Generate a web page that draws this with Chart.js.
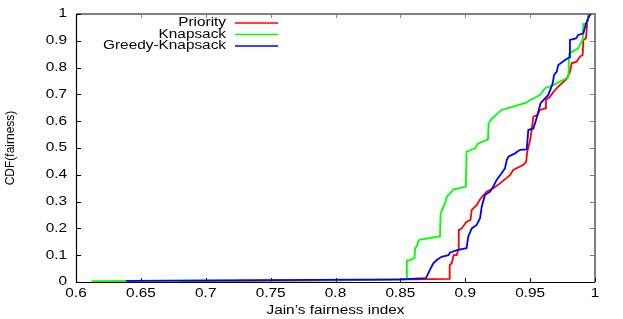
<!DOCTYPE html>
<html>
<head>
<meta charset="utf-8">
<script src="https://cdn.jsdelivr.net/npm/chart.js@4.4.0/dist/chart.umd.min.js"></script>
<style>
  html, body { margin: 0; padding: 0; background: #fff; }
  #wrap { width: 623px; height: 319px; }
</style>
</head>
<body>
<div id="wrap"><canvas id="cdfChart" width="623" height="319"></canvas></div>
<script>
// tick labels
var xTicks = [0.6, 0.65, 0.7, 0.75, 0.8, 0.85, 0.9, 0.95, 1];
var yTicks = [0, 0.1, 0.2, 0.3, 0.4, 0.5, 0.6, 0.7, 0.8, 0.9, 1];

// series names
var seriesNames = ['Priority', 'Knapsack', 'Greedy-Knapsack'];

// Priority (red)
var priorityX = [0.68, 0.80, 0.8875, 0.888, 0.8896, 0.891, 0.8934, 0.8946, 0.895, 0.8973, 0.901, 0.904, 0.905, 0.9088, 0.9114, 0.9165, 0.9216, 0.9268, 0.9345, 0.937, 0.9448, 0.947, 0.9478, 0.950, 0.9512, 0.9525, 0.9556, 0.9576, 0.9615, 0.9622, 0.9653, 0.968, 0.9717, 0.9756, 0.978, 0.9807, 0.982, 0.9858, 0.9884, 0.9905, 0.991, 0.993, 0.994, 0.9948, 0.995];
var priorityY = [0.003, 0.006, 0.012, 0.063, 0.07, 0.10, 0.10, 0.12, 0.194, 0.20, 0.225, 0.231, 0.269, 0.287, 0.309, 0.337, 0.35, 0.368, 0.399, 0.418, 0.437, 0.449, 0.486, 0.530, 0.567, 0.617, 0.623, 0.642, 0.648, 0.679, 0.691, 0.710, 0.729, 0.747, 0.757, 0.785, 0.816, 0.822, 0.841, 0.847, 0.903, 0.909, 0.965, 0.996, 1.0];

// Knapsack (green)
var knapsackX = [0.612, 0.70, 0.80, 0.8545, 0.855, 0.8575, 0.861, 0.8613, 0.8626, 0.8644, 0.8664, 0.8805, 0.881, 0.8844, 0.8857, 0.8883, 0.891, 0.9005, 0.901, 0.9075, 0.910, 0.9175, 0.918, 0.920, 0.928, 0.935, 0.947, 0.950, 0.9576, 0.9615, 0.968, 0.978, 0.9795, 0.980, 0.987, 0.9905, 0.991, 0.9936, 0.9945, 0.996];
var knapsackY = [0.003, 0.005, 0.007, 0.01, 0.08, 0.082, 0.09, 0.126, 0.132, 0.157, 0.159, 0.170, 0.256, 0.294, 0.318, 0.331, 0.346, 0.356, 0.486, 0.499, 0.517, 0.532, 0.592, 0.607, 0.642, 0.652, 0.669, 0.679, 0.698, 0.723, 0.735, 0.760, 0.765, 0.853, 0.872, 0.903, 0.963, 0.963, 0.984, 1.0];

// Greedy-Knapsack (blue)
var greedyX = [0.6385, 0.75, 0.85, 0.8697, 0.8715, 0.874, 0.8754, 0.878, 0.8818, 0.887, 0.8882, 0.8934, 0.901, 0.9023, 0.905, 0.9088, 0.9114, 0.9127, 0.9152, 0.9191, 0.9216, 0.9242, 0.928, 0.9306, 0.932, 0.9333, 0.9383, 0.9422, 0.9474, 0.9486, 0.9525, 0.9545, 0.9581, 0.9615, 0.964, 0.9674, 0.9684, 0.9705, 0.9717, 0.9769, 0.9802, 0.9807, 0.9853, 0.9871, 0.991, 0.993, 0.9948, 0.9961, 0.997];
var greedyY = [0.004, 0.007, 0.01, 0.014, 0.032, 0.057, 0.07, 0.082, 0.094, 0.10, 0.109, 0.119, 0.126, 0.169, 0.20, 0.213, 0.238, 0.281, 0.325, 0.337, 0.356, 0.381, 0.406, 0.424, 0.455, 0.468, 0.48, 0.493, 0.495, 0.567, 0.573, 0.604, 0.667, 0.685, 0.698, 0.741, 0.772, 0.785, 0.810, 0.828, 0.838, 0.903, 0.909, 0.922, 0.928, 0.963, 0.984, 0.996, 1.0];

var colors = ['#ff0000', '#00ff00', '#0000ff'];

function pts(xs, ys) {
    return xs.map(function(x, i){ return {x: x, y: ys[i]}; });
}

var FONT = '12px "Liberation Sans", Arial, Helvetica, sans-serif';
var STRETCH = 1.28;

function stretchText(ctx, text, x, y, align) {
    ctx.save();
    ctx.translate(x, y);
    ctx.scale(STRETCH, 1);
    ctx.textAlign = align;
    ctx.textBaseline = 'middle';
    ctx.fillText(text, 0, 0);
    ctx.restore();
}

// gnuplot style frame: black left/bottom, grey top/right, inward ticks
var framePlugin = {
    id: 'frame',
    beforeDatasetsDraw: function(chart) {
        var ctx = chart.ctx, a = chart.chartArea;
        var xs = chart.scales.x, ys = chart.scales.y;
        ctx.save();
        ctx.lineCap = 'butt';
        // grey top/right
        ctx.strokeStyle = '#808080';
        ctx.lineWidth = 2;
        ctx.beginPath();
        ctx.moveTo(a.left, a.top); ctx.lineTo(a.right, a.top); ctx.lineTo(a.right, a.bottom);
        ctx.stroke();
        ctx.lineWidth = 1;
        xTicks.forEach(function(v){
            var px = Math.round(xs.getPixelForValue(v)) + 0.5;
            ctx.beginPath(); ctx.moveTo(px, a.top); ctx.lineTo(px, a.top + 4); ctx.stroke();
        });
        yTicks.forEach(function(v){
            var py = Math.round(ys.getPixelForValue(v)) + 0.5;
            ctx.beginPath(); ctx.moveTo(a.right, py); ctx.lineTo(a.right - 5, py); ctx.stroke();
        });
        // black left/bottom
        ctx.strokeStyle = '#000';
        ctx.lineWidth = 1.2;
        ctx.beginPath();
        ctx.moveTo(a.left + 0.5, a.top); ctx.lineTo(a.left + 0.5, a.bottom + 0.5); ctx.lineTo(a.right, a.bottom + 0.5);
        ctx.stroke();
        ctx.lineWidth = 1;
        xTicks.forEach(function(v){
            var px = Math.round(xs.getPixelForValue(v)) + 0.5;
            ctx.beginPath(); ctx.moveTo(px, a.bottom); ctx.lineTo(px, a.bottom - 4); ctx.stroke();
        });
        yTicks.forEach(function(v){
            var py = Math.round(ys.getPixelForValue(v)) + 0.5;
            ctx.beginPath(); ctx.moveTo(a.left, py); ctx.lineTo(a.left + 5, py); ctx.stroke();
        });
        ctx.restore();
    },
    afterDraw: function(chart) {
        var ctx = chart.ctx, a = chart.chartArea;
        var xs = chart.scales.x, ys = chart.scales.y;
        ctx.save();
        ctx.fillStyle = '#000';
        ctx.font = FONT;
        xTicks.forEach(function(v){
            stretchText(ctx, String(v), xs.getPixelForValue(v), a.bottom + 12, 'center');
        });
        yTicks.forEach(function(v){
            stretchText(ctx, String(v), a.left - 9, ys.getPixelForValue(v), 'right');
        });
        // axis titles
        stretchText(ctx, 'Jain\u2019s fairness index', (a.left + a.right) / 2, 311, 'center');
        ctx.save();
        ctx.translate(11, (a.top + a.bottom) / 2);
        ctx.rotate(-Math.PI / 2);
        ctx.textAlign = 'center';
        ctx.textBaseline = 'middle';
        ctx.fillText('CDF(fairness)', 0, 0);
        ctx.restore();
        // key
        seriesNames.forEach(function(name, i){
            var y = 23 + i * 11.5;
            stretchText(ctx, name, 226, y, 'right');
            ctx.strokeStyle = colors[i];
            ctx.lineWidth = 1.5;
            ctx.beginPath(); ctx.moveTo(235, y); ctx.lineTo(278, y); ctx.stroke();
        });
        ctx.restore();
    }
};

var ctx = document.getElementById('cdfChart').getContext('2d');
var chart = new Chart(ctx, {
    type: 'line',
    data: {
        datasets: [{
            label: seriesNames[0],
            data: pts(priorityX, priorityY),
            borderColor: colors[0],
            order: 3
        }, {
            label: seriesNames[1],
            data: pts(knapsackX, knapsackY),
            borderColor: colors[1],
            order: 2
        }, {
            label: seriesNames[2],
            data: pts(greedyX, greedyY),
            borderColor: colors[2],
            order: 1
        }]
    },
    options: {
        responsive: false,
        animation: false,
        layout: { padding: { left: 0, right: 28, top: 14, bottom: 0 } },
        elements: {
            line: { borderWidth: 1.8, tension: 0, fill: false },
            point: { radius: 0 }
        },
        plugins: { legend: { display: false }, tooltip: { enabled: false } },
        scales: {
            x: {
                type: 'linear',
                min: 0.6, max: 1,
                grid: { display: false },
                border: { display: false },
                ticks: { display: false, stepSize: 0.05 },
                afterFit: function(s){ s.height = 37; }
            },
            y: {
                min: 0, max: 1,
                grid: { display: false },
                border: { display: false },
                ticks: { display: false, stepSize: 0.1 },
                afterFit: function(s){ s.width = 76; }
            }
        }
    },
    plugins: [framePlugin]
});
</script>
</body>
</html>
